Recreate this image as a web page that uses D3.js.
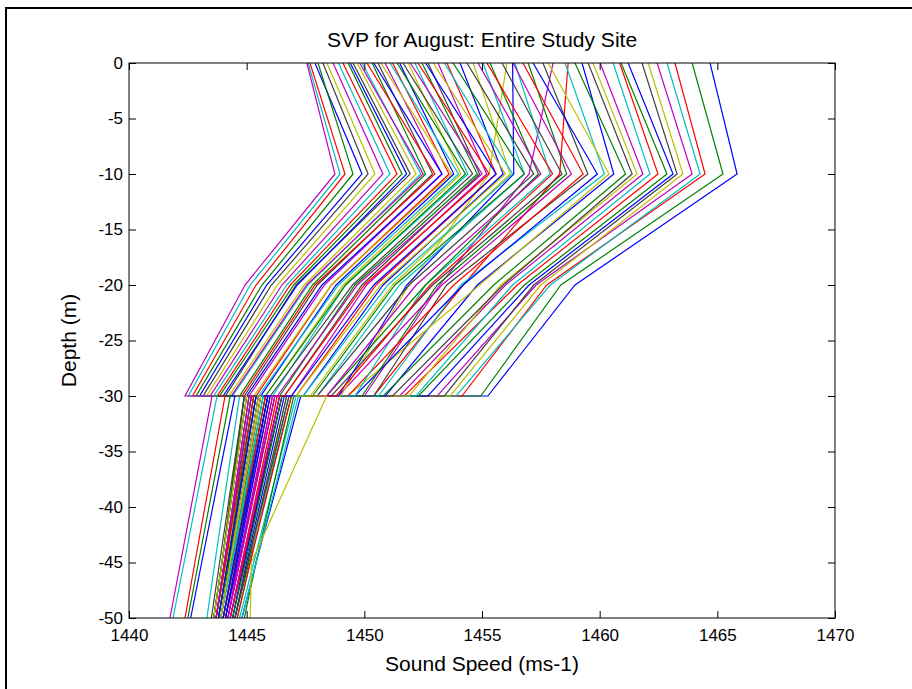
<!DOCTYPE html>
<html>
<head>
<meta charset="utf-8">
<script src="https://cdn.jsdelivr.net/npm/d3@7"></script>
<style>
body { margin: 0; background: #fff; }
text { font-family: "Liberation Sans", Arial, Helvetica, sans-serif; fill: #000; }
</style>
</head>
<body>
<script>
'use strict';

// depth of each profile vertex; the profile steps sideways at -30 m
var depths = [0, -10, -20, -30, -30, -45, -50];

// sound speed (ms-1) per cast, one array per vertex
var speed0m = [
    1464.69, 1463.93, 1463.20, 1462.86, 1462.44, 1462.06, 1461.80, 1461.21, 1460.91, 1460.85,
    1460.57, 1460.02, 1459.72, 1459.51, 1459.25, 1458.95, 1458.66, 1458.53, 1458.02, 1457.81,
    1457.59, 1457.17, 1456.96, 1456.74, 1456.40, 1456.32, 1456.06, 1455.85, 1456.30, 1455.34,
    1455.21, 1455.04, 1454.83, 1454.62, 1454.36, 1454.07, 1453.77, 1453.51, 1453.40, 1453.13,
    1452.92, 1452.71, 1452.60, 1452.45, 1452.28, 1452.15, 1451.95, 1451.86, 1451.64, 1451.50,
    1451.39, 1451.20, 1451.09, 1450.88, 1450.70, 1450.58, 1450.40, 1450.33, 1450.11, 1449.90,
    1449.80, 1449.69, 1449.52, 1449.40, 1449.31, 1449.09, 1448.90, 1448.67, 1448.41, 1448.24,
    1447.90, 1448.03, 1447.69, 1447.61, 1447.56];
var speed10m = [
    1465.84, 1465.24, 1464.48, 1464.27, 1463.93, 1463.54, 1463.29, 1463.12, 1462.86, 1462.48,
    1462.14, 1461.84, 1461.59, 1461.38, 1460.60, 1461.10, 1458.30, 1460.20, 1457.00, 1460.40,
    1459.50, 1459.90, 1458.60, 1459.30, 1457.90, 1458.80, 1455.30, 1458.40, 1456.35, 1457.40,
    1458.00, 1456.80, 1457.50, 1456.20, 1457.20, 1455.90, 1456.80, 1455.60, 1456.30, 1455.20,
    1456.00, 1454.90, 1455.60, 1454.80, 1455.30, 1454.40, 1455.00, 1454.10, 1454.60, 1453.80,
    1454.30, 1453.60, 1454.00, 1453.30, 1453.70, 1452.90, 1453.30, 1452.60, 1453.00, 1452.40,
    1452.50, 1452.20, 1451.95, 1451.80, 1451.60, 1451.39, 1451.09, 1450.79, 1450.45, 1450.16,
    1449.90, 1449.52, 1449.18, 1448.97, 1448.75];
var speed20m = [
    1458.95, 1458.35, 1457.75, 1457.90, 1457.30, 1457.50, 1457.20, 1457.00, 1456.80, 1456.50,
    1456.30, 1456.00, 1455.80, 1455.90, 1454.80, 1455.50, 1454.20, 1454.10, 1453.20, 1454.90,
    1453.50, 1454.20, 1453.10, 1453.80, 1452.60, 1453.30, 1451.90, 1452.90, 1451.80, 1452.60,
    1452.80, 1451.50, 1452.20, 1451.20, 1451.90, 1450.80, 1451.30, 1450.50, 1451.00, 1450.10,
    1450.70, 1449.90, 1450.40, 1449.60, 1450.00, 1449.20, 1449.70, 1449.10, 1449.50, 1448.80,
    1449.20, 1448.60, 1448.90, 1448.30, 1448.60, 1448.00, 1448.20, 1447.80, 1447.90, 1447.60,
    1447.55, 1447.45, 1447.10, 1447.15, 1447.00, 1446.85, 1446.70, 1446.50, 1446.30, 1446.05,
    1445.85, 1445.65, 1445.40, 1445.15, 1444.93];
var speed30mUpper = [
    1455.25, 1454.95, 1454.15, 1453.90, 1453.10, 1453.65, 1453.40, 1452.70, 1452.30, 1451.70,
    1452.20, 1451.50, 1451.90, 1451.20, 1450.90, 1450.80, 1450.40, 1450.60, 1450.00, 1449.30,
    1450.40, 1449.60, 1449.90, 1449.30, 1449.60, 1448.90, 1449.00, 1448.60, 1448.90, 1448.40,
    1448.80, 1448.00, 1448.40, 1447.70, 1448.00, 1447.40, 1447.80, 1447.10, 1447.40, 1446.90,
    1447.10, 1446.60, 1446.90, 1446.40, 1446.60, 1446.10, 1446.30, 1445.80, 1446.00, 1445.60,
    1445.80, 1445.40, 1445.50, 1445.10, 1445.30, 1444.90, 1445.00, 1444.70, 1444.80, 1444.40,
    1444.35, 1444.25, 1444.10, 1444.00, 1443.85, 1443.75, 1443.60, 1443.45, 1443.30, 1443.15,
    1443.00, 1442.85, 1442.70, 1442.52, 1442.38];
var speed30mLower = [
    1447.30, 1446.90, 1446.50, 1447.10, 1446.20, 1446.70, 1445.90, 1446.40, 1447.00, 1445.60,
    1446.80, 1445.40, 1446.30, 1445.80, 1446.60, 1445.20, 1446.10, 1447.20, 1445.50, 1446.00,
    1445.30, 1446.50, 1445.70, 1446.90, 1445.10, 1446.20, 1445.60, 1446.80, 1445.40, 1445.90,
    1446.40, 1445.00, 1446.10, 1445.30, 1446.70, 1445.50, 1445.80, 1446.30, 1445.20, 1446.00,
    1448.40, 1445.40, 1445.90, 1446.50, 1445.10, 1445.70, 1446.20, 1444.90, 1445.60, 1446.00,
    1445.30, 1445.80, 1445.00, 1446.40, 1445.50, 1445.20, 1445.90, 1445.40, 1444.90, 1445.70,
    1445.10, 1445.60, 1445.00, 1445.40, 1444.90, 1445.30, 1444.70, 1445.20, 1445.00, 1444.90,
    1444.50, 1444.30, 1444.08, 1443.74, 1443.53];
var speed45m = [
    1445.40, 1445.10, 1444.85, 1445.30, 1444.65, 1445.15, 1444.50, 1444.90, 1445.40, 1444.35,
    1445.15, 1444.20, 1444.80, 1444.45, 1445.00, 1444.10, 1444.70, 1445.40, 1444.30, 1444.55,
    1444.20, 1444.90, 1444.45, 1445.15, 1444.05, 1444.70, 1444.30, 1445.05, 1444.20, 1444.55,
    1444.85, 1443.95, 1444.65, 1444.15, 1445.05, 1444.30, 1444.45, 1444.80, 1444.10, 1444.55,
    1445.20, 1444.25, 1444.55, 1444.95, 1444.05, 1444.40, 1444.70, 1443.95, 1444.35, 1444.60,
    1444.20, 1444.45, 1443.95, 1444.80, 1444.30, 1444.10, 1444.45, 1444.20, 1443.95, 1444.35,
    1444.05, 1444.30, 1443.95, 1444.20, 1443.95, 1444.10, 1443.65, 1444.05, 1443.95, 1443.85,
    1443.09, 1442.95, 1442.80, 1442.34, 1442.19];
var speed50m = [
    1444.80, 1444.50, 1444.30, 1444.70, 1444.10, 1444.60, 1444.00, 1444.40, 1444.90, 1443.90,
    1444.60, 1443.80, 1444.30, 1444.00, 1444.50, 1443.70, 1444.20, 1444.80, 1443.90, 1444.10,
    1443.80, 1444.40, 1444.00, 1444.60, 1443.70, 1444.20, 1443.90, 1444.50, 1443.80, 1444.10,
    1444.30, 1443.60, 1444.20, 1443.80, 1444.50, 1443.90, 1444.00, 1444.30, 1443.70, 1444.10,
    1445.15, 1443.90, 1444.10, 1444.40, 1443.70, 1444.00, 1444.20, 1443.60, 1443.90, 1444.10,
    1443.80, 1444.00, 1443.60, 1444.30, 1443.90, 1443.70, 1444.00, 1443.80, 1443.60, 1443.90,
    1443.70, 1443.90, 1443.60, 1443.80, 1443.60, 1443.70, 1443.31, 1443.70, 1443.60, 1443.50,
    1442.62, 1442.50, 1442.38, 1441.87, 1441.74];

var xTicks = [1440, 1445, 1450, 1455, 1460, 1465, 1470];
var yTicks = [0, -5, -10, -15, -20, -25, -30, -35, -40, -45, -50];
// matlab's old default colour order: b g r c m y k
var lineColors = ["#0000ff", "#008000", "#ff0000", "#00bfbf", "#bf00bf", "#bfbf00", "#404040"];

var w = 912,
    h = 689,
    plotLeft = 129,
    plotRight = 835,
    plotTop = 63,
    plotBottom = 618,
    tick = 7;

var svg = d3.select("body").append("svg")
    .attr("width", w)
    .attr("height", h);

svg.append("rect")
    .attr("width", w)
    .attr("height", h)
    .attr("fill", "#fff");

// figure frame, only its left and top edges are in the shot
svg.append("path")
    .attr("d", "M6,689V8H912")
    .attr("fill", "none")
    .attr("stroke", "#000")
    .attr("stroke-width", 2);

var x = d3.scaleLinear().domain([1440, 1470]).range([plotLeft, plotRight]);
var y = d3.scaleLinear().domain([-50, 0]).range([plotBottom, plotTop]);

var speedRows = [speed0m, speed10m, speed20m, speed30mUpper, speed30mLower, speed45m, speed50m];
var profiles = d3.range(speed0m.length).map(function (i) {
    return depths.map(function (d, j) { return [speedRows[j][i], d]; });
});

var line = d3.line()
    .x(function (p) { return x(p[0]); })
    .y(function (p) { return y(p[1]); });

svg.append("defs").append("clipPath").attr("id", "clip")
    .append("rect")
    .attr("x", plotLeft)
    .attr("y", plotTop)
    .attr("width", plotRight - plotLeft)
    .attr("height", plotBottom - plotTop);

svg.append("g")
    .attr("clip-path", "url(#clip)")
    .selectAll("path")
    .data(profiles)
    .enter().append("path")
    .attr("d", line)
    .attr("fill", "none")
    .attr("stroke", function (d, i) { return lineColors[i % lineColors.length]; })
    .attr("stroke-width", 1.2);

function styleAxis(g) {
    g.select(".domain").remove();
    g.selectAll(".tick line").attr("stroke", "#000");
    g.selectAll(".tick text")
        .attr("fill", "#000")
        .style("font-size", "17px")
        .style("font-family", "'Liberation Sans', Arial, sans-serif");
}

svg.append("g")
    .attr("transform", "translate(0," + plotBottom + ")")
    .call(d3.axisBottom(x).tickValues(xTicks).tickSize(-tick).tickPadding(11).tickFormat(d3.format("d")))
    .call(styleAxis);

svg.append("g")
    .attr("transform", "translate(0," + plotTop + ")")
    .call(d3.axisTop(x).tickValues(xTicks).tickSize(-tick).tickFormat(""))
    .call(styleAxis);

svg.append("g")
    .attr("transform", "translate(" + plotLeft + ",0)")
    .call(d3.axisLeft(y).tickValues(yTicks).tickSize(-tick).tickPadding(6)
        .tickFormat(function (d) { return String(d); }))
    .call(styleAxis);

svg.append("g")
    .attr("transform", "translate(" + plotRight + ",0)")
    .call(d3.axisRight(y).tickValues(yTicks).tickSize(-tick).tickFormat(""))
    .call(styleAxis);

svg.append("rect")
    .attr("x", plotLeft)
    .attr("y", plotTop)
    .attr("width", plotRight - plotLeft)
    .attr("height", plotBottom - plotTop)
    .attr("fill", "none")
    .attr("stroke", "#000")
    .attr("stroke-width", 1);

svg.append("text")
    .attr("x", (plotLeft + plotRight) / 2)
    .attr("y", 47)
    .attr("text-anchor", "middle")
    .style("font-size", "21px")
    .text("SVP for August: Entire Study Site");

svg.append("text")
    .attr("x", (plotLeft + plotRight) / 2)
    .attr("y", 671)
    .attr("text-anchor", "middle")
    .style("font-size", "21px")
    .text("Sound Speed (ms-1)");

svg.append("text")
    .attr("transform", "translate(76," + (plotTop + plotBottom) / 2 + ")rotate(-90)")
    .attr("text-anchor", "middle")
    .style("font-size", "21px")
    .text("Depth (m)");
</script>
</body>
</html>
